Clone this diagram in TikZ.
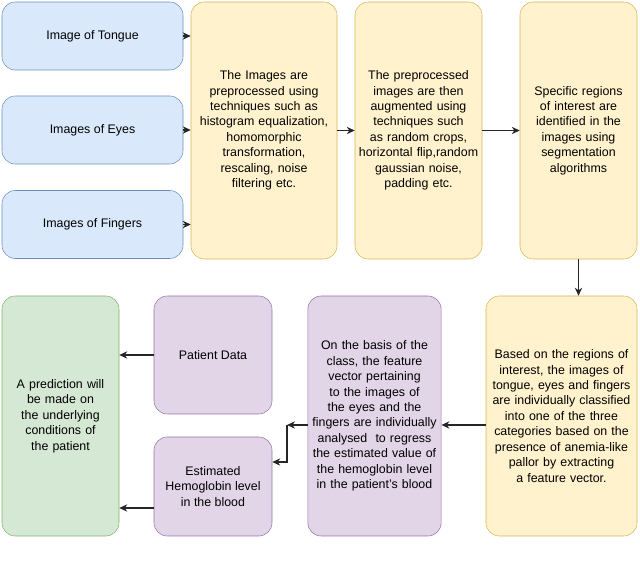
\documentclass[tikz,border=0pt]{standalone}
\usepackage{fontspec}
\setmainfont{Liberation Sans}
\usepackage{tikz}
\usetikzlibrary{arrows.meta,positioning,calc}
\definecolor{bluef}{HTML}{DAE8FC}\definecolor{bluel}{HTML}{6C8EBF}
\definecolor{yelf}{HTML}{FFF2CC}\definecolor{yell}{HTML}{D6B656}
\definecolor{purf}{HTML}{E1D5E7}\definecolor{purl}{HTML}{9673A6}
\definecolor{grnf}{HTML}{D5E8D4}\definecolor{grnl}{HTML}{82B366}
\newcommand{\nohy}{\hyphenpenalty=10000 \exhyphenpenalty=10000 \relax}
\tikzset{box/.style={draw, rounded corners=10pt, align=center, inner sep=1pt,
  font=\fontsize{9.3}{11.6}\selectfont\nohy},
  blu/.style={box, fill=bluef, draw=bluel},
  yel/.style={box, fill=yelf, draw=yell},
  pur/.style={box, fill=purf, draw=purl},
  grn/.style={box, fill=grnf, draw=grnl},
  arr/.style={-{Stealth[length=6pt,width=5.5pt]}, thick, black!85}}
\begin{document}
\begin{tikzpicture}[x=0.75pt, y=-0.75pt]
\useasboundingbox (0,0) rectangle (640,573);
% top row
\node[blu, minimum width=181*0.75pt, minimum height=68*0.75pt] (tongue) at (92.5,36) {Image of Tongue};
\node[blu, minimum width=181*0.75pt, minimum height=68*0.75pt] (eyes) at (92.5,130) {Images of Eyes};
\node[blu, minimum width=181*0.75pt, minimum height=68*0.75pt] (fingers) at (92.5,224.5) {Images of Fingers};
\node[yel, minimum width=146*0.75pt, minimum height=257*0.75pt, text width=104pt] (prep) at (264,130.5)
  {The Images are preprocessed using techniques such as histogram equalization, homomorphic transformation, rescaling, noise filtering etc.};
\node[yel, minimum width=127*0.75pt, minimum height=257*0.75pt, text width=92pt] (aug) at (418.5,130.5)
  {The preprocessed images are then augmented using techniques such as random crops, horizontal flip,random gaussian noise, padding etc.};
\node[yel, minimum width=117*0.75pt, minimum height=257*0.75pt, text width=84pt] (seg) at (578.5,130.5)
  {Specific regions of interest are identified in the images using segmentation algorithms};
% bottom row
\node[yel, minimum width=151*0.75pt, minimum height=240*0.75pt, text width=110pt] (cls) at (561.5,416)
  {Based on the regions of interest, the images of tongue, eyes and fingers are individually classified into one of the three categories based on the presence of anemia-like pallor by extracting a feature vector.};
\node[pur, minimum width=133*0.75pt, minimum height=240*0.75pt, text width=98pt] (feat) at (374.5,416)
  {On the basis of the class, the feature vector pertaining to the images of the eyes and the fingers are individually analysed\ \ to regress the estimated value of the hemoglobin level in the patient's blood};
\node[pur, minimum width=118*0.75pt, minimum height=118*0.75pt] (patient) at (213,355) {Patient Data};
\node[pur, minimum width=118*0.75pt, minimum height=99*0.75pt] (hb) at (213,486.5) {Estimated\\Hemoglobin level\\in the blood};
\node[grn, minimum width=117*0.75pt, minimum height=240*0.75pt, text width=82pt] (pred) at (60.5,416)
  {A prediction will be made on the underlying conditions of the patient};
\coordinate (split) at (287,425);
% connectors
\draw[arr] (tongue) -- (prep.west |- tongue);
\draw[arr] (eyes) -- (prep.west |- eyes);
\draw[arr] (fingers) -- (prep.west |- fingers);
\draw[arr] (prep.east |- aug) -- (aug);
\draw[arr] (aug) -- (seg);
\draw[arr] (seg.south) -- (seg.south |- cls.north);
\draw[arr] (cls.west |- split) -- (feat.east |- split);
\draw[arr] (feat.west |- split) -- (split);
\draw[arr] (split) |- (hb.east |- 0,462);
\draw[arr] (patient) -- (pred.east |- patient);
\draw[arr] (hb.west |- 0,508) -- (pred.east |- 0,508);
\end{tikzpicture}
\end{document}
